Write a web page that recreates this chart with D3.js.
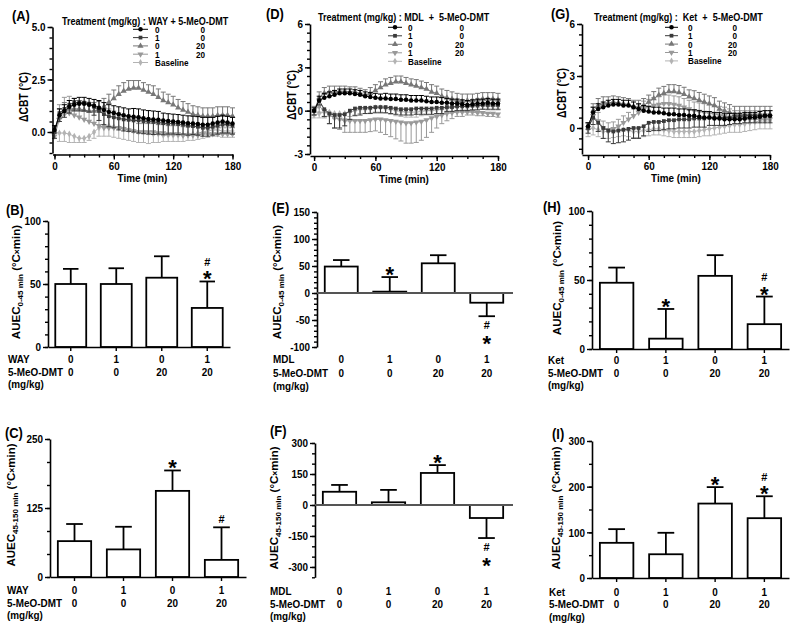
<!DOCTYPE html>
<html>
<head>
<meta charset="utf-8">
<script src="https://cdn.jsdelivr.net/npm/d3@7/dist/d3.min.js"></script>
<style>
  html,body{margin:0;padding:0;background:#fff;}
  svg text{font-family:"Liberation Sans",Arial,Helvetica,sans-serif;font-weight:bold;fill:#000;}
</style>
</head>
<body>
<svg id="chart" width="800" height="630"></svg>
<script>
// ---------------- DATA ----------------
const time = [0,5,10,15,20,25,30,35,40,45,50,55,60,65,70,75,80,85,90,95,100,105,110,115,120,125,130,135,140,145,150,155,160,165,170,175,180];
const timeTicks = [0,60,120,180];
const antDoses = ["0","1","0","1"];
const dmtDoses = ["0","0","20","20"];
const groups = ["veh","ant","dmt","combo"];
const baselineLabel = "Baseline";

// Panel A : WAY + 5-MeO-DMT (deg C)
const A_veh   = [0.1,0.8,1.0,1.2,1.3,1.35,1.35,1.3,1.25,1.15,1.05,0.95,0.9,0.85,0.8,0.75,0.72,0.7,0.65,0.62,0.6,0.58,0.55,0.52,0.5,0.48,0.45,0.42,0.4,0.38,0.35,0.35,0.4,0.45,0.5,0.45,0.4];
const A_veh_err   = [0.2,0.3,0.3,0.3,0.3,0.3,0.3,0.3,0.3,0.35,0.35,0.35,0.35,0.35,0.35,0.35,0.4,0.4,0.4,0.4,0.4,0.4,0.35,0.35,0.35,0.35,0.35,0.35,0.35,0.35,0.35,0.35,0.3,0.3,0.3,0.3,0.3];
const A_ant   = [0.0,0.9,1.1,1.3,1.4,1.4,1.4,1.35,1.2,1.0,0.85,0.75,0.7,0.65,0.6,0.58,0.55,0.55,0.52,0.5,0.48,0.45,0.42,0.4,0.4,0.38,0.35,0.3,0.28,0.25,0.2,0.2,0.25,0.3,0.35,0.35,0.3];
const A_ant_err   = [0.3,0.4,0.4,0.4,0.4,0.4,0.4,0.4,0.4,0.45,0.5,0.5,0.5,0.55,0.55,0.55,0.55,0.6,0.6,0.6,0.6,0.55,0.55,0.5,0.5,0.5,0.45,0.45,0.4,0.4,0.4,0.4,0.4,0.4,0.4,0.4,0.4];
const A_dmt   = [0.0,0.7,1.0,1.1,1.1,1.1,1.05,1.0,1.0,1.05,1.2,1.4,1.6,1.8,1.95,2.05,2.1,2.1,2.0,1.9,1.8,1.65,1.5,1.4,1.3,1.15,1.05,0.95,0.85,0.8,0.75,0.75,0.75,0.8,0.8,0.8,0.75];
const A_dmt_err   = [0.3,0.4,0.4,0.4,0.4,0.4,0.4,0.4,0.4,0.4,0.4,0.4,0.4,0.4,0.4,0.4,0.35,0.35,0.35,0.35,0.4,0.4,0.4,0.4,0.4,0.4,0.4,0.4,0.4,0.4,0.4,0.4,0.4,0.4,0.4,0.4,0.4];
const A_combo = [-0.2,0.6,0.85,0.9,0.8,0.7,0.6,0.5,0.4,0.3,0.2,0.2,0.2,0.2,0.15,0.1,0.05,0.0,0.0,0.0,0.0,-0.05,-0.05,-0.1,-0.1,-0.1,-0.15,-0.15,-0.15,-0.15,-0.1,-0.1,-0.1,-0.1,-0.1,-0.1,-0.1];
const A_combo_err = [0.4,0.7,0.8,0.8,0.8,0.8,0.8,0.8,0.8,0.8,0.9,0.9,0.8,0.7,0.6,0.5,0.5,0.4,0.4,0.4,0.4,0.4,0.4,0.4,0.4,0.4,0.4,0.4,0.4,0.4,0.3,0.3,0.3,0.3,0.3,0.3,0.3];
const A_base  = [0.0,-0.05,-0.05,-0.1,-0.2,-0.3,-0.3,-0.2,0.0,0.2,0.3,0.3,0.25,0.2,0.15,0.1,0.05,0.0,0.0,-0.05,-0.1,-0.1,-0.15,-0.15,-0.15,-0.15,-0.15,-0.1,-0.1,-0.05,0.0,0.05,0.1,0.1,0.05,0.05,0.05];
const A_base_err  = [0.3,0.4,0.4,0.4,0.3,0.2,0.2,0.2,0.3,0.4,0.5,0.5,0.5,0.5,0.5,0.5,0.5,0.5,0.5,0.5,0.4,0.4,0.3,0.3,0.3,0.3,0.3,0.3,0.3,0.3,0.3,0.3,0.3,0.3,0.3,0.3,0.3];

// Panel D : MDL + 5-MeO-DMT
const D_veh   = [0.0,0.7,0.9,1.0,1.1,1.2,1.2,1.2,1.15,1.1,1.0,0.95,0.9,0.85,0.85,0.8,0.8,0.75,0.75,0.7,0.7,0.7,0.65,0.6,0.6,0.55,0.55,0.5,0.5,0.45,0.4,0.45,0.5,0.5,0.55,0.5,0.5];
const D_veh_err   = [0.2,0.3,0.3,0.3,0.3,0.3,0.3,0.3,0.3,0.3,0.3,0.3,0.3,0.3,0.35,0.35,0.35,0.35,0.35,0.35,0.35,0.35,0.35,0.35,0.35,0.35,0.3,0.3,0.3,0.3,0.3,0.3,0.3,0.3,0.3,0.3,0.3];
const D_ant   = [0.0,0.7,0.1,-0.2,-0.3,-0.3,-0.25,0.0,0.15,0.2,0.2,0.2,0.25,0.25,0.25,0.2,0.15,0.1,0.1,0.1,0.15,0.15,0.15,0.15,0.2,0.2,0.25,0.25,0.3,0.3,0.3,0.35,0.35,0.4,0.4,0.4,0.4];
const D_ant_err   = [0.3,0.3,0.5,0.7,0.9,0.9,0.8,0.6,0.5,0.5,0.4,0.4,0.4,0.4,0.4,0.4,0.4,0.4,0.4,0.4,0.4,0.4,0.4,0.4,0.4,0.4,0.3,0.3,0.3,0.3,0.3,0.3,0.3,0.3,0.3,0.3,0.3];
const D_dmt   = [0.0,0.9,1.2,1.3,1.3,1.35,1.35,1.3,1.3,1.2,1.1,1.2,1.4,1.6,1.8,1.9,2.0,2.0,1.9,1.8,1.7,1.6,1.5,1.3,1.2,1.0,0.9,0.8,0.7,0.65,0.7,0.7,0.75,0.8,0.8,0.8,0.75];
const D_dmt_err   = [0.3,0.4,0.4,0.4,0.4,0.35,0.35,0.35,0.35,0.35,0.35,0.4,0.4,0.4,0.4,0.4,0.4,0.4,0.4,0.4,0.45,0.45,0.45,0.5,0.5,0.5,0.5,0.5,0.5,0.5,0.45,0.45,0.45,0.45,0.45,0.45,0.45];
const D_combo = [0.0,0.3,0.0,-0.3,-0.5,-0.6,-0.7,-0.7,-0.7,-0.7,-0.7,-0.65,-0.6,-0.6,-0.65,-0.7,-0.75,-0.8,-0.85,-0.85,-0.8,-0.75,-0.65,-0.5,-0.4,-0.3,-0.2,-0.15,-0.1,-0.1,-0.1,-0.1,-0.15,-0.15,-0.2,-0.2,-0.25];
const D_combo_err = [0.3,0.4,0.5,0.6,0.7,0.7,0.8,0.8,0.8,0.8,0.8,0.8,0.8,0.9,1.0,1.1,1.2,1.3,1.4,1.4,1.4,1.3,1.2,1.0,0.8,0.6,0.5,0.4,0.3,0.3,0.2,0.2,0.2,0.2,0.2,0.2,0.2];
const D_base  = [-0.3,-0.2,-0.1,-0.1,-0.2,-0.2,-0.2,-0.1,0.0,0.1,0.1,0.15,0.2,0.2,0.15,0.1,0.0,-0.05,-0.1,-0.1,-0.1,-0.05,0.0,0.0,0.05,0.1,0.15,0.2,0.25,0.3,0.3,0.3,0.35,0.35,0.3,0.3,0.3];
const D_base_err  = [0.2,0.3,0.3,0.3,0.35,0.35,0.35,0.3,0.3,0.3,0.3,0.3,0.3,0.3,0.3,0.35,0.35,0.35,0.35,0.35,0.35,0.3,0.3,0.3,0.3,0.3,0.25,0.25,0.25,0.25,0.25,0.25,0.25,0.25,0.25,0.25,0.25];

// Panel G : Ket + 5-MeO-DMT
const G_veh   = [0.1,0.9,1.1,1.2,1.3,1.35,1.35,1.3,1.3,1.2,1.1,1.0,0.95,0.9,0.9,0.85,0.8,0.8,0.75,0.75,0.7,0.7,0.65,0.6,0.6,0.55,0.55,0.5,0.5,0.5,0.5,0.55,0.6,0.6,0.65,0.7,0.7];
const G_veh_err   = [0.2,0.3,0.3,0.3,0.3,0.3,0.3,0.3,0.3,0.3,0.3,0.3,0.3,0.3,0.3,0.3,0.35,0.35,0.35,0.35,0.35,0.35,0.35,0.35,0.35,0.35,0.35,0.35,0.35,0.35,0.35,0.35,0.3,0.3,0.3,0.3,0.3];
const G_ant   = [0.0,0.6,0.3,0.0,-0.15,-0.2,-0.15,-0.1,-0.05,0.0,0.0,0.1,0.3,0.35,0.35,0.4,0.45,0.45,0.5,0.5,0.5,0.55,0.55,0.55,0.6,0.6,0.6,0.6,0.6,0.65,0.65,0.7,0.7,0.7,0.7,0.7,0.7];
const G_ant_err   = [0.3,0.4,0.5,0.6,0.65,0.7,0.7,0.7,0.65,0.6,0.6,0.55,0.5,0.5,0.5,0.5,0.5,0.5,0.5,0.5,0.5,0.5,0.5,0.5,0.45,0.45,0.45,0.45,0.4,0.4,0.4,0.4,0.4,0.4,0.4,0.4,0.4];
const G_dmt   = [0.0,1.0,1.3,1.4,1.45,1.5,1.45,1.4,1.35,1.25,1.2,1.3,1.5,1.7,1.9,2.0,2.1,2.1,2.05,1.95,1.8,1.7,1.6,1.5,1.4,1.3,1.1,1.0,0.9,0.8,0.8,0.8,0.8,0.8,0.8,0.8,0.8];
const G_dmt_err   = [0.3,0.4,0.4,0.4,0.35,0.35,0.35,0.35,0.35,0.35,0.4,0.4,0.4,0.4,0.4,0.4,0.4,0.4,0.4,0.4,0.4,0.45,0.45,0.45,0.45,0.45,0.45,0.45,0.45,0.45,0.45,0.45,0.45,0.45,0.45,0.45,0.45];
const G_combo = [0.0,0.7,0.4,0.0,-0.1,-0.05,0.1,0.3,0.5,0.7,0.9,1.1,1.2,1.3,1.35,1.4,1.4,1.35,1.3,1.2,1.1,1.0,0.95,0.9,0.85,0.8,0.75,0.7,0.6,0.5,0.5,0.5,0.5,0.5,0.5,0.5,0.5];
const G_combo_err = [0.3,0.5,0.5,0.4,0.4,0.4,0.4,0.4,0.4,0.4,0.45,0.45,0.45,0.45,0.45,0.5,0.5,0.5,0.5,0.5,0.5,0.5,0.5,0.5,0.5,0.5,0.5,0.5,0.5,0.5,0.5,0.5,0.5,0.5,0.5,0.5,0.5];
const G_base  = [-0.1,0.0,-0.1,-0.2,-0.2,-0.15,-0.1,-0.1,-0.15,-0.2,-0.2,-0.15,-0.1,-0.05,-0.05,-0.1,-0.15,-0.2,-0.2,-0.2,-0.2,-0.2,-0.15,-0.1,-0.05,0.0,0.05,0.1,0.15,0.2,0.2,0.25,0.3,0.35,0.4,0.4,0.4];
const G_base_err  = [0.4,0.4,0.4,0.4,0.4,0.4,0.4,0.35,0.35,0.35,0.35,0.35,0.35,0.35,0.35,0.35,0.35,0.35,0.35,0.35,0.35,0.35,0.35,0.35,0.4,0.4,0.4,0.4,0.4,0.45,0.45,0.45,0.45,0.45,0.45,0.45,0.45];

// Bar panels: AUEC means and SEM (deg C x min)
const B_mean = [50, 50, 55, 31];   const B_err = [12, 12.5, 17, 21];   const B_marks = ["","","","#*"];
const E_mean = [49, 2.5, 55, -18]; const E_err = [12, 27, 15, 25];     const E_marks = ["","*","","#*"];
const H_mean = [48, 7.5, 53, 18];  const H_err = [11, 21.5, 15, 20];   const H_marks = ["","*","","#*"];
const C_mean = [65, 50, 156, 31];  const C_err = [31, 41, 37, 59];     const C_marks = ["","","*","#"];
const F_mean = [64, 13, 155, -63]; const F_err = [33, 60, 38, 97];     const F_marks = ["","","*","#*"];
const I_mean = [77, 52, 163, 131]; const I_err = [30, 47, 36, 48];     const I_marks = ["","","*","#*"];

// ---------------- DRAWING ----------------
const svg = d3.select("#chart");
const FS = {tick:11.5, row:11.5, title:10.5, legend:9.5, time:11.5, letter:15, ylab:12, auec:11.5};

const seriesStyle = [
  {color:"#000000", sym:d3.symbolCircle,   rot:0,   size:16},
  {color:"#3a3a3a", sym:d3.symbolSquare,   rot:0,   size:14},
  {color:"#777777", sym:d3.symbolTriangle, rot:0,   size:16},
  {color:"#999999", sym:d3.symbolTriangle, rot:180, size:16},
  {color:"#b3b3b3", sym:d3.symbolDiamond,  rot:0,   size:14}
];

function styleAxis(sel, fs) {
  sel.attr("font-family", null).attr("font-size", null);
  sel.select(".domain").attr("stroke", "#000").attr("stroke-width", 1.6);
  sel.selectAll(".tick line").attr("stroke", "#000").attr("stroke-width", 1.4);
  sel.selectAll(".tick text").attr("font-size", fs);
}

function txt(x, y, s, fs, anchor) {
  return svg.append("text").attr("x", x).attr("y", y).attr("font-size", fs)
    .attr("text-anchor", anchor || "start").style("white-space", "pre").text(s);
}

function timePanel(p) {
  const x = d3.scaleLinear().domain(p.xDom).range(p.xRange);
  const y = d3.scaleLinear().domain(p.yDom).range(p.yRange);
  const g = svg.append("g");
  for (let k = p.series.length - 1; k >= 0; k--) {
    const st = seriesStyle[k], dir = p.dirs[k];
    const pts = time.map((t, i) => ({t: t, v: p.series[k][i], e: p.errs[k][i]}));
    const sg = g.append("g");
    sg.selectAll("line.eb").data(pts).join("line").attr("class", "eb")
      .attr("x1", d => x(d.t)).attr("x2", d => x(d.t))
      .attr("y1", d => y(d.v)).attr("y2", d => y(d.v + dir * d.e))
      .attr("stroke", st.color).attr("stroke-width", 1);
    sg.selectAll("line.cap").data(pts).join("line").attr("class", "cap")
      .attr("x1", d => x(d.t) - 2.5).attr("x2", d => x(d.t) + 2.5)
      .attr("y1", d => y(d.v + dir * d.e)).attr("y2", d => y(d.v + dir * d.e))
      .attr("stroke", st.color).attr("stroke-width", 1);
    sg.append("path").datum(pts)
      .attr("d", d3.line().x(d => x(d.t)).y(d => y(d.v)))
      .attr("fill", "none").attr("stroke", st.color).attr("stroke-width", 1);
    sg.selectAll("path.m").data(pts).join("path").attr("class", "m")
      .attr("d", d3.symbol(st.sym, st.size))
      .attr("transform", d => `translate(${x(d.t)},${y(d.v)}) rotate(${st.rot})`)
      .attr("fill", st.color);
  }
  const ya = g.append("g").attr("transform", `translate(${p.xRange[0]},0)`)
    .call(d3.axisLeft(y).tickValues(p.yTicks).tickFormat(p.yFmt).tickSize(5).tickSizeOuter(0).tickPadding(2));
  styleAxis(ya, FS.tick);
  const ym = g.append("g").attr("transform", `translate(${p.xRange[0]},0)`)
    .call(d3.axisLeft(y).tickValues(p.yMinor).tickFormat("").tickSize(3));
  ym.select(".domain").remove(); styleAxis(ym, FS.tick);
  const xa = g.append("g").attr("transform", `translate(0,${p.xAxisY})`)
    .call(d3.axisBottom(x).tickValues(timeTicks).tickFormat(d => String(d)).tickSize(5).tickSizeOuter(0).tickPadding(2));
  styleAxis(xa, FS.tick);
  const xm = g.append("g").attr("transform", `translate(0,${p.xAxisY})`)
    .call(d3.axisBottom(x).tickValues(d3.range(0, 181, 15)).tickFormat("").tickSize(3));
  xm.select(".domain").remove(); styleAxis(xm, FS.tick);
  txt((p.xRange[0] + p.xRange[1]) / 2, p.xAxisY + 27, "Time (min)", FS.time, "middle");
  svg.append("text").attr("transform", `translate(${p.yLabX},${p.yLabY}) rotate(-90)`)
    .attr("text-anchor", "middle").attr("font-size", FS.ylab).text("\u0394CBT (\u00B0C)");
  txt(p.letterX, p.letterY, p.letter, FS.letter);
  const L = p.legend;
  txt(L.titleX, L.titleY, "Treatment (mg/kg) : " + p.drugTitle, FS.title);
  for (let k = 0; k < 5; k++) {
    const yy = L.rowY0 + k * L.rowDy, st = seriesStyle[k];
    svg.append("line").attr("x1", L.lx1).attr("x2", L.lx2).attr("y1", yy).attr("y2", yy)
      .attr("stroke", st.color).attr("stroke-width", 1);
    svg.append("path").attr("d", d3.symbol(st.sym, st.size)())
      .attr("transform", `translate(${(L.lx1 + L.lx2) / 2},${yy}) rotate(${st.rot})`).attr("fill", st.color);
    if (k < 4) {
      txt(L.tx1, yy + 3.4, antDoses[k], FS.legend);
      txt(L.tx2, yy + 3.4, dmtDoses[k], FS.legend, "end");
    } else {
      txt(L.tx1, yy + 3.4, baselineLabel, FS.legend);
    }
  }
}

function barPanel(p) {
  const x = d3.scaleBand().domain(groups).range([p.left, p.right]).paddingInner(0.32).paddingOuter(0.16);
  const y = d3.scaleLinear().domain(p.yDom).range(p.yRange);
  const bw = x.bandwidth();
  const g = svg.append("g");
  const data = groups.map((gn, i) => ({g: gn, m: p.mean[i], e: p.err[i], mark: p.marks[i]}));
  const cx = d => x(d.g) + bw / 2;
  const tipY = d => y(d.m >= 0 ? d.m + d.e : d.m - d.e);
  g.selectAll("line.eb").data(data).join("line").attr("class", "eb")
    .attr("x1", cx).attr("x2", cx).attr("y1", d => y(d.m)).attr("y2", tipY)
    .attr("stroke", "#000").attr("stroke-width", 1.8);
  g.selectAll("line.cap").data(data).join("line").attr("class", "cap")
    .attr("x1", d => cx(d) - bw * 0.25).attr("x2", d => cx(d) + bw * 0.25)
    .attr("y1", tipY).attr("y2", tipY).attr("stroke", "#000").attr("stroke-width", 1.8);
  g.selectAll("rect").data(data).join("rect")
    .attr("x", d => x(d.g)).attr("width", bw)
    .attr("y", d => y(Math.max(0, d.m))).attr("height", d => Math.abs(y(d.m) - y(0)))
    .attr("fill", "#fff").attr("stroke", "#000").attr("stroke-width", 1.8);
  const ya = g.append("g").attr("transform", `translate(${p.left},0)`)
    .call(d3.axisLeft(y).tickValues(p.yTicks).tickFormat(d => String(d)).tickSize(5).tickSizeOuter(0).tickPadding(2));
  styleAxis(ya, FS.tick);
  const ym = g.append("g").attr("transform", `translate(${p.left},0)`)
    .call(d3.axisLeft(y).tickValues(p.yMinor).tickFormat("").tickSize(3));
  ym.select(".domain").remove(); styleAxis(ym, FS.tick);
  if (p.yDom[0] < 0) {
    g.append("line").attr("x1", p.left).attr("x2", p.right + 2).attr("y1", y(0)).attr("y2", y(0))
      .attr("stroke", "#555").attr("stroke-width", 2);
  } else {
    const xa = g.append("g").attr("transform", `translate(0,${y(0)})`)
      .call(d3.axisBottom(x).tickFormat("").tickSize(4).tickSizeOuter(0));
    styleAxis(xa, FS.tick);
  }
  data.forEach(d => {
    if (!d.mark) return;
    const t = tipY(d), c = cx(d);
    const hasStar = d.mark.includes("*"), hasHash = d.mark.includes("#");
    const starFs = 22, starOff = 12.5, hashFs = 11, hashOff = 4;
    if (d.m >= 0) {
      const starC = t - 7.5;
      const hashC = hasStar ? t - 19.5 : t - 8;
      if (hasStar) txt(c, starC + starOff, "*", starFs, "middle");
      if (hasHash) txt(c, hashC + hashOff, "#", hashFs, "middle");
    } else {
      const hashC = t + 9;
      const starC = hasHash ? t + 22 : t + 9;
      if (hasHash) txt(c, hashC + hashOff, "#", hashFs, "middle");
      if (hasStar) txt(c, starC + starOff, "*", starFs, "middle");
    }
  });
  const rows = [[p.drug, antDoses], ["5-MeO-DMT", dmtDoses], ["(mg/kg)", null]];
  rows.forEach((r, i) => {
    txt(p.rowX, p.rowY[i] + 4, r[0], FS.row);
    if (r[1]) r[1].forEach((v, j) => txt(x(groups[j]) + bw / 2, p.rowY[i] + 4, v, FS.row, "middle"));
  });
  const lab = svg.append("text").attr("transform", `translate(${p.yLabX},${p.yLabY}) rotate(-90)`)
    .attr("text-anchor", "middle").attr("font-size", FS.auec);
  lab.append("tspan").text("AUEC");
  lab.append("tspan").attr("font-size", 8).attr("dy", 2.5).text(p.sub);
  lab.append("tspan").attr("font-size", FS.auec).attr("dy", -2.5).text(" (\u00B0C");
  lab.append("tspan").attr("font-size", 8.5).text("\u00D7");
  lab.append("tspan").attr("font-size", FS.auec).text("min)");
  txt(p.letterX, p.letterY, p.letter, FS.letter);
}

timePanel({letter:"(A)", letterX:12, letterY:21, drugTitle:"WAY + 5-MeO-DMT",
  xDom:[-2,180], xRange:[52.5,232.5], yDom:[-1,5], yRange:[153,27],
  yTicks:[0,2.5,5], yFmt:d3.format(".1f"), yMinor:d3.range(-1,5.01,0.5), xAxisY:154.5,
  yLabX:28, yLabY:97,
  series:[A_veh,A_ant,A_dmt,A_combo,A_base], errs:[A_veh_err,A_ant_err,A_dmt_err,A_combo_err,A_base_err],
  dirs:[1,-1,1,1,-1],
  legend:{titleX:62, titleY:24.5, rowY0:29.3, rowDy:8.3, lx1:133, lx2:148, tx1:155, tx2:205}});

timePanel({letter:"(D)", letterX:266, letterY:19, drugTitle:"MDL  +  5-MeO-DMT",
  xDom:[-4,180], xRange:[310,498], yDom:[-3,6], yRange:[154,24],
  yTicks:[-3,0,3,6], yFmt:d => String(d), yMinor:d3.range(-3,6.01,0.6), xAxisY:156,
  yLabX:296, yLabY:95,
  series:[D_veh,D_ant,D_dmt,D_combo,D_base], errs:[D_veh_err,D_ant_err,D_dmt_err,D_combo_err,D_base_err],
  dirs:[1,-1,1,-1,-1],
  legend:{titleX:318, titleY:21, rowY0:27.3, rowDy:8.5, lx1:388, lx2:402, tx1:408, tx2:464}});

timePanel({letter:"(G)", letterX:551, letterY:19, drugTitle:" Ket  +  5-MeO-DMT",
  xDom:[-6,180], xRange:[582,770], yDom:[-1.5,6], yRange:[154,24],
  yTicks:[0,3,6], yFmt:d => String(d), yMinor:d3.range(-1.2,6.01,0.6), xAxisY:155,
  yLabX:566, yLabY:93,
  series:[G_veh,G_ant,G_dmt,G_combo,G_base], errs:[G_veh_err,G_ant_err,G_dmt_err,G_combo_err,G_base_err],
  dirs:[1,-1,1,1,-1],
  legend:{titleX:594, titleY:21, rowY0:27.3, rowDy:8.4, lx1:665, lx2:678, tx1:688, tx2:737}});

barPanel({letter:"(B)", letterX:6, letterY:215, drug:"WAY", sub:"0-45 min",
  left:48, right:230, yDom:[0,100], yRange:[347,221], yTicks:[0,50,100], yMinor:d3.range(0,101,10),
  mean:B_mean, err:B_err, marks:B_marks, rowX:8, rowY:[359,372,384], yLabX:20, yLabY:282});
barPanel({letter:"(E)", letterX:272, letterY:213, drug:"MDL", sub:"0-45 min",
  left:317, right:511, yDom:[-100,150], yRange:[347,212], yTicks:[-100,-50,0,50,100,150], yMinor:d3.range(-100,151,10),
  mean:E_mean, err:E_err, marks:E_marks, rowX:273, rowY:[359,373,386], yLabX:281, yLabY:282});
barPanel({letter:"(H)", letterX:543, letterY:212, drug:"Ket", sub:"0-45 min",
  left:592, right:789, yDom:[0,100], yRange:[349,211], yTicks:[0,50,100], yMinor:d3.range(0,101,10),
  mean:H_mean, err:H_err, marks:H_marks, rowX:548, rowY:[360,373,385], yLabX:561, yLabY:278});
barPanel({letter:"(C)", letterX:5, letterY:438, drug:"WAY", sub:"45-150 min",
  left:50, right:246, yDom:[0,250], yRange:[577,439], yTicks:[0,125,250], yMinor:d3.range(0,251,250/6),
  mean:C_mean, err:C_err, marks:C_marks, rowX:7, rowY:[590,603,615], yLabX:15, yLabY:505});
barPanel({letter:"(F)", letterX:270, letterY:436, drug:"MDL", sub:"45-150 min",
  left:315, right:511, yDom:[-350,300], yRange:[577.3,443], yTicks:[-300,-150,0,150,300], yMinor:d3.range(-350,301,50),
  mean:F_mean, err:F_err, marks:F_marks, rowX:270, rowY:[591,604,616], yLabX:278, yLabY:508});
barPanel({letter:"(I)", letterX:552, letterY:439, drug:"Ket", sub:"45-150 min",
  left:592, right:789, yDom:[0,300], yRange:[578,441], yTicks:[0,100,200,300], yMinor:d3.range(0,301,50),
  mean:I_mean, err:I_err, marks:I_marks, rowX:549, rowY:[592,604,617], yLabX:560, yLabY:508});

// condensed look of the original typeface: compress simple texts horizontally
svg.selectAll("text").each(function () {
  if (this.querySelector("tspan")) return;
  const s = this.textContent;
  if (s === "*" || s === "#") return;
  const w = this.getComputedTextLength();
  if (w > 0) d3.select(this).attr("textLength", w * 0.86).attr("lengthAdjust", "spacingAndGlyphs");
});
</script>
</body>
</html>
